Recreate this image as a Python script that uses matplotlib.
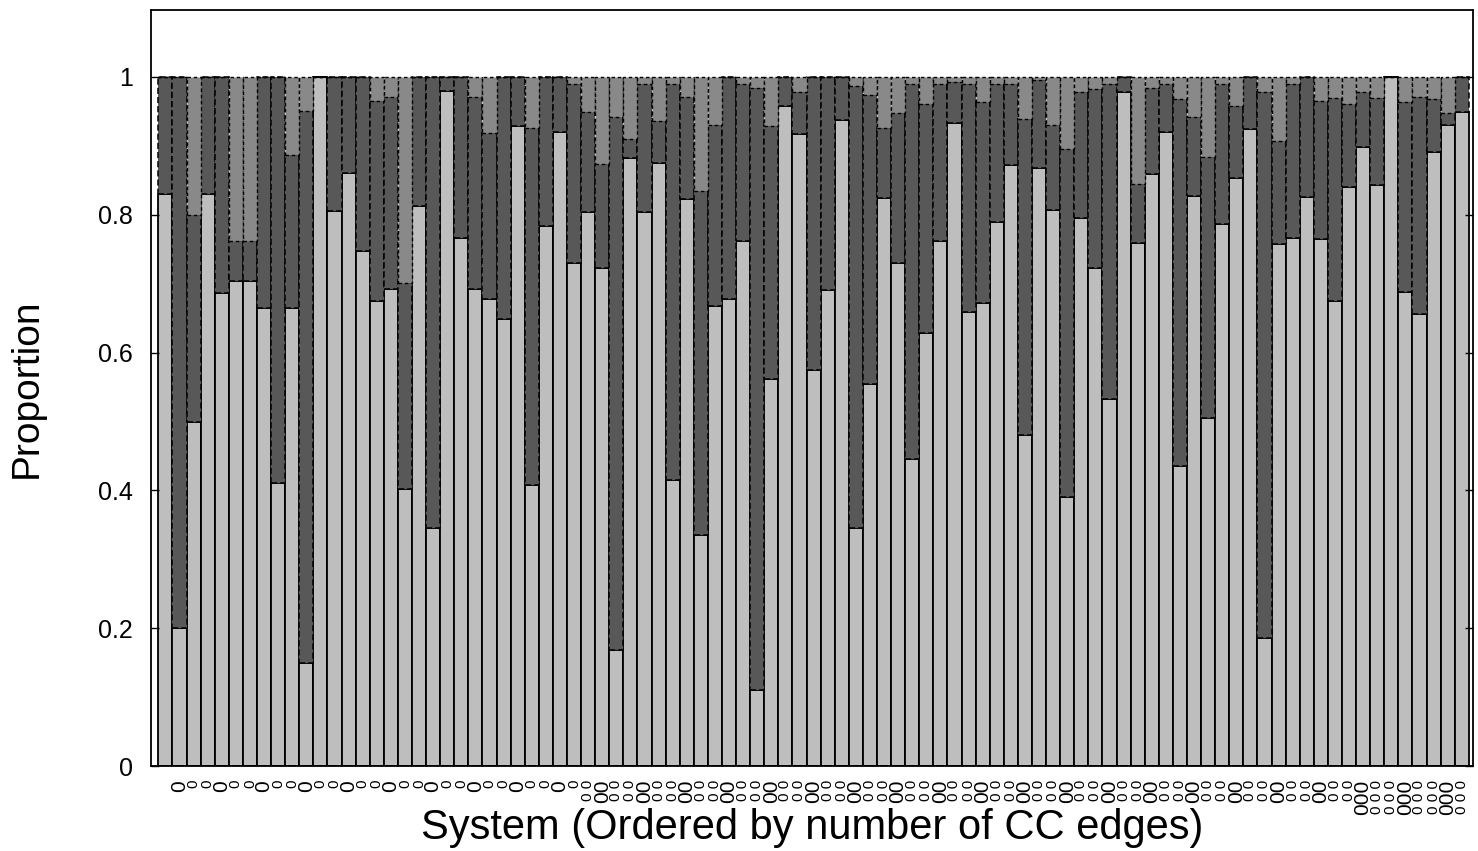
import numpy as np
import matplotlib
matplotlib.use("Agg")
import matplotlib.pyplot as plt

plt.rcParams['font.family'] = ['Liberation Sans', 'DejaVu Sans']

# proportions per system (bottom: light, middle: dark, top: medium)
light = [0.830, 0.200, 0.499, 0.830, 0.686, 0.704, 0.704, 0.665, 0.410, 0.665,
         0.150, 1.000, 0.806, 0.861, 0.748, 0.675, 0.692, 0.402, 0.813, 0.345,
         0.980, 0.766, 0.692, 0.678, 0.649, 0.928, 0.408, 0.784, 0.920, 0.730,
         0.804, 0.723, 0.168, 0.882, 0.804, 0.875, 0.415, 0.823, 0.335, 0.668,
         0.678, 0.762, 0.110, 0.562, 0.958, 0.917, 0.575, 0.691, 0.938, 0.345,
         0.554, 0.824, 0.730, 0.445, 0.628, 0.762, 0.933, 0.659, 0.672, 0.790,
         0.872, 0.480, 0.868, 0.807, 0.390, 0.795, 0.723, 0.532, 0.978, 0.759,
         0.859, 0.920, 0.435, 0.827, 0.505, 0.786, 0.853, 0.925, 0.186, 0.757,
         0.766, 0.826, 0.764, 0.675, 0.840, 0.898, 0.843, 1.000, 0.688, 0.656,
         0.891, 0.930, 0.949]
dark = [0.170, 0.800, 0.301, 0.170, 0.314, 0.058, 0.058, 0.335, 0.590, 0.222,
        0.801, 0.000, 0.194, 0.139, 0.252, 0.290, 0.279, 0.299, 0.187, 0.655,
        0.020, 0.234, 0.279, 0.241, 0.351, 0.072, 0.518, 0.216, 0.080, 0.260,
        0.145, 0.151, 0.774, 0.028, 0.186, 0.061, 0.575, 0.148, 0.499, 0.262,
        0.322, 0.228, 0.874, 0.367, 0.042, 0.061, 0.425, 0.309, 0.062, 0.642,
        0.420, 0.102, 0.217, 0.545, 0.333, 0.228, 0.060, 0.331, 0.292, 0.200,
        0.118, 0.459, 0.127, 0.123, 0.505, 0.183, 0.259, 0.458, 0.022, 0.086,
        0.125, 0.070, 0.533, 0.115, 0.379, 0.204, 0.104, 0.075, 0.792, 0.150,
        0.224, 0.174, 0.201, 0.294, 0.121, 0.080, 0.127, 0.000, 0.276, 0.315,
        0.077, 0.017, 0.051]
medium = [0.000, 0.000, 0.200, 0.000, 0.000, 0.238, 0.238, 0.000, 0.000, 0.113,
          0.049, 0.000, 0.000, 0.000, 0.000, 0.035, 0.029, 0.299, 0.000, 0.000,
          0.000, 0.000, 0.029, 0.081, 0.000, 0.000, 0.074, 0.000, 0.000, 0.010,
          0.051, 0.126, 0.058, 0.090, 0.010, 0.064, 0.010, 0.029, 0.166, 0.070,
          0.000, 0.010, 0.016, 0.071, 0.000, 0.022, 0.000, 0.000, 0.000, 0.013,
          0.026, 0.074, 0.053, 0.010, 0.039, 0.010, 0.007, 0.010, 0.036, 0.010,
          0.010, 0.061, 0.005, 0.070, 0.105, 0.022, 0.018, 0.010, 0.000, 0.155,
          0.016, 0.010, 0.032, 0.058, 0.116, 0.010, 0.043, 0.000, 0.022, 0.093,
          0.010, 0.000, 0.035, 0.031, 0.039, 0.022, 0.030, 0.000, 0.036, 0.029,
          0.032, 0.053, 0.000]

system_labels = [''] + ['0'] * 29 + ['00'] * 55 + ['000'] * 8

y_ticks = [0, 0.2, 0.4, 0.6, 0.8, 1.0]
y_tick_labels = ['0', '0.2', '0.4', '0.6', '0.8', '1']

light = np.array(light)
dark = np.array(dark)
medium = np.array(medium)
x = np.arange(len(light))

fig = plt.figure(figsize=(14.78, 8.51), dpi=100)
ax = fig.add_axes([151 / 1478, 85 / 851, 1322 / 1478, 756 / 851])

ax.bar(x, light, width=1.0, color='#bebebe', edgecolor='black', linewidth=1.3)
ax.bar(x, dark, bottom=light, width=1.0, color='#585858', edgecolor='black',
       linewidth=1.1, linestyle=(0, (4, 2)))
ax.bar(x, medium, bottom=light + dark, width=1.0, color='#898989', edgecolor='black',
       linewidth=1.0, linestyle=(0, (2.5, 2)))

ax.set_ylim(0, 1.097)
ax.set_xlim(-1.02, 92.8)

ax.set_yticks(y_ticks)
ax.set_yticklabels(y_tick_labels)
ax.tick_params(axis='y', direction='in', length=6, width=1.0, right=True,
               labelsize=18, pad=13)

ax.set_xticks(x)
shown = []
for i, lab in enumerate(system_labels):
    shown.append(lab if (i % 3 == 1) else ' '.join(lab))
ax.set_xticklabels(shown, rotation=90)
ax.tick_params(axis='x', length=0, pad=10)
for i, t in enumerate(ax.get_xticklabels()):
    t.set_fontsize(15 if i % 3 == 1 else 11)

for s in ax.spines.values():
    s.set_linewidth(1.3)

ax.set_ylabel('Proportion', fontsize=28)
ax.yaxis.set_label_coords(-0.080, 0.5)
ax.set_xlabel('System (Ordered by number of CC edges)', fontsize=30)
ax.xaxis.set_label_coords(0.5, -0.055)

fig.savefig('out.png', dpi=100)
